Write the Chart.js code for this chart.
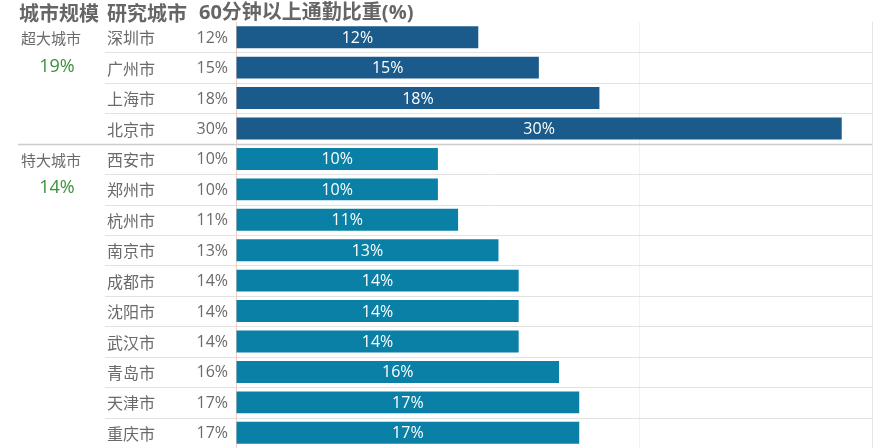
<!DOCTYPE html>
<html>
<head>
<meta charset="utf-8">
<script src="https://cdn.jsdelivr.net/npm/chart.js@4/dist/chart.umd.min.js"></script>
<style>
html,body{margin:0;padding:0;background:#fff;}
#wrap{width:892px;height:448px;position:relative;}
</style>
</head>
<body>
<div id="wrap"><canvas id="c" width="892" height="448"></canvas></div>
<script>
const headers = ['城市规模', '研究城市', '60分钟以上通勤比重(%)'];
const groups = ['超大城市', '特大城市'];
const groupAverages = ['19%', '14%'];
const cities = ['深圳市','广州市','上海市','北京市','西安市','郑州市','杭州市','南京市','成都市','沈阳市','武汉市','青岛市','天津市','重庆市'];
const cityGroup = [0,0,0,0,1,1,1,1,1,1,1,1,1,1];
const values = [12,15,18,30,10,10,11,13,14,14,14,16,17,17];
const groupColors = ['#1b5b8b', '#0a80a6'];

const FONT_CJK = '"Noto Sans CJK SC", "Noto Sans", sans-serif';
const FONT_NUM = '"Open Sans", "Noto Sans CJK SC", sans-serif';

const tablePlugin = {
  id: 'tablePlugin',
  beforeDatasetsDraw(chart) {
    const ctx = chart.ctx;
    const y = chart.scales.y, x = chart.scales.x;
    const ca = chart.chartArea;
    ctx.save();
    for (let i = 0; i < cities.length - 1; i++) {
      const yy = Math.round((y.getPixelForValue(i) + y.getPixelForValue(i + 1)) / 2) + 0.5;
      const boundary = cityGroup[i] !== cityGroup[i + 1];
      ctx.beginPath();
      ctx.strokeStyle = boundary ? '#cccccc' : '#e2e2e2';
      ctx.lineWidth = boundary ? 1.5 : 1;
      ctx.moveTo(boundary ? 18 : 105, yy);
      ctx.lineTo(ca.right, yy);
      ctx.stroke();
    }
    const x0 = Math.round(x.getPixelForValue(0)) + 0.5;
    ctx.beginPath();
    ctx.strokeStyle = '#efcfc4';
    ctx.lineWidth = 1;
    ctx.moveTo(x0, ca.top);
    ctx.lineTo(x0, ca.bottom);
    ctx.stroke();
    ctx.restore();
  },
  afterDatasetsDraw(chart) {
    const ctx = chart.ctx;
    const y = chart.scales.y;
    const meta = chart.getDatasetMeta(0);
    ctx.save();
    ctx.fillStyle = '#666666';
    ctx.textBaseline = 'middle';
    ctx.textAlign = 'left';
    ctx.font = 'bold 20px ' + FONT_CJK;
    ctx.fillText(headers[0], 19, 13);
    ctx.fillText(headers[1], 107, 13);
    ctx.font = 'bold 20px ' + FONT_NUM;
    ctx.fillText(headers[2], 199, 13);

    cities.forEach((c, i) => {
      const yy = y.getPixelForValue(i);
      ctx.fillStyle = '#6a6a6a';
      ctx.font = '16px ' + FONT_CJK;
      ctx.textAlign = 'left';
      ctx.fillText(c, 107, yy + 1);
      ctx.font = '16px ' + FONT_NUM;
      ctx.textAlign = 'right';
      ctx.fillText(values[i] + '%', 228, yy + 1);
      const bar = meta.data[i];
      ctx.fillStyle = '#ffffff';
      ctx.textAlign = 'center';
      ctx.font = '16px ' + FONT_NUM;
      ctx.fillText(values[i] + '%', (bar.x + bar.base) / 2, yy + 1);
    });

    groups.forEach((g, gi) => {
      const first = cityGroup.indexOf(gi);
      const y1 = y.getPixelForValue(first);
      const y2 = y.getPixelForValue(first + 1);
      ctx.fillStyle = '#6a6a6a';
      ctx.font = '15px ' + FONT_CJK;
      ctx.textAlign = 'center';
      ctx.fillText(g, 51, y1 + 1);
      ctx.fillStyle = '#3b913b';
      ctx.font = '18px ' + FONT_NUM;
      ctx.fillText(groupAverages[gi], 57, y2 - 1);
    });
    ctx.restore();
  }
};

new Chart(document.getElementById('c'), {
  type: 'bar',
  data: {
    labels: cities,
    datasets: [{
      data: values,
      backgroundColor: values.map((v, i) => groupColors[cityGroup[i]]),
      borderWidth: 0,
      categoryPercentage: 1,
      barPercentage: 0.72
    }]
  },
  options: {
    indexAxis: 'y',
    responsive: false,
    animation: false,
    devicePixelRatio: 1,
    layout: { padding: { left: 236, top: 22, right: 20, bottom: 0 } },
    plugins: { legend: { display: false }, tooltip: { enabled: false }, title: { display: false } },
    scales: {
      x: {
        min: 0,
        max: 31.5,
        ticks: { display: false, stepSize: 10 },
        border: { display: false },
        grid: {
          drawTicks: false,
          color: (c) => {
            const v = c.tick ? c.tick.value : 0;
            if (v === 31.5) return '#e4e4e4';
            if (v === 20 || v === 30) return '#f2f2f2';
            return 'rgba(0,0,0,0)';
          }
        }
      },
      y: { display: false }
    }
  },
  plugins: [tablePlugin]
});
</script>
</body>
</html>
